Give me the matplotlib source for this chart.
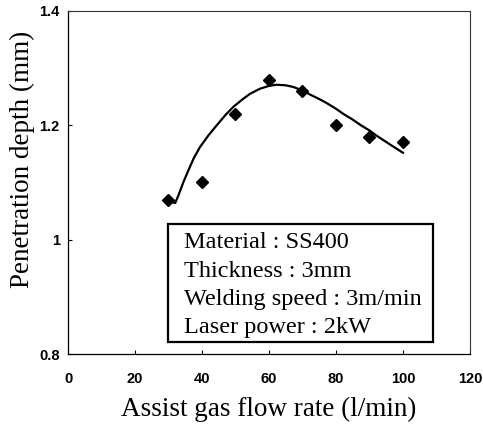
# Penetration depth vs assist gas flow rate, SS400 3mm
import matplotlib.pyplot as plt
from matplotlib.patches import Rectangle

flow = [30, 40, 50, 60, 70, 80, 90, 100]
depth = [1.07, 1.10, 1.22, 1.28, 1.26, 1.20, 1.18, 1.17]

# fitted curve
curve_x = [31.0, 32.0, 33.0, 34.4, 36.0, 37.5, 39.4, 42.0, 44.4, 47.0, 49.3, 52.0, 54.3, 57.3,
           60.0, 62.3, 65.0, 67.3, 70.0, 72.2, 75.0, 77.2, 80.0, 82.2, 85.0, 87.2, 90.0, 92.1, 96.0, 100.0]
curve_y = [1.066, 1.064, 1.078, 1.100, 1.122, 1.142, 1.162, 1.183, 1.200, 1.218, 1.232, 1.245, 1.255, 1.264,
           1.269, 1.271, 1.270, 1.267, 1.261, 1.254, 1.246, 1.239, 1.229, 1.220, 1.210, 1.201, 1.191, 1.182, 1.167, 1.152]

xticks = [0, 20, 40, 60, 80, 100, 120]
yticks = [0.8, 1.0, 1.2, 1.4]
ytick_labels = ['0.8', '1', '1.2', '1.4']

info = ['Material : SS400', 'Thickness : 3mm', 'Welding speed : 3m/min', 'Laser power : 2kW']

fig = plt.figure(figsize=(4.83, 4.34), dpi=100)
ax = fig.add_axes([0.1408, 0.1843, 0.8322, 0.7904])

ax.plot(curve_x, curve_y, color='black', lw=1.6)
ax.plot(flow, depth, linestyle='none', marker='D', ms=5.8, color='black')

ax.set_xlim(0, 120)
ax.set_ylim(0.8, 1.4)
ax.set_xticks(xticks)
ax.set_yticks(yticks)
ax.set_yticklabels(ytick_labels)
ax.tick_params(direction='in', length=3, width=0.8)
ax.tick_params(axis='x', pad=13)
ax.tick_params(axis='y', pad=6)
for lab in ax.get_xticklabels() + ax.get_yticklabels():
    lab.set_fontfamily('Liberation Sans')
    lab.set_fontweight('bold')
    lab.set_fontsize(10.5)

for side in ['left', 'bottom']:
    ax.spines[side].set_linewidth(0.9)
for side in ['top', 'right']:
    ax.spines[side].set_linewidth(0.8)
    ax.spines[side].set_linestyle((0, (2, 1)))
    ax.spines[side].set_color('#333333')

ax.set_xlabel('Assist gas flow rate (l/min)', fontfamily='Liberation Serif', fontsize=19.5)
ax.xaxis.set_label_coords(0.5, -0.124)
ax.set_ylabel('Penetration depth (mm)', fontfamily='Liberation Serif', fontsize=19.5)
ax.yaxis.set_label_coords(-0.083, 0.567)

# info box
ax.add_patch(Rectangle((0.249, 0.035), 0.659, 0.344, transform=ax.transAxes,
                       facecolor='white', edgecolor='black', lw=1.6, zorder=3))
line_y = [0.309, 0.2245, 0.143, 0.061]
for txt, yy in zip(info, line_y):
    ax.text(0.2886, yy, txt, transform=ax.transAxes, fontfamily='Liberation Serif',
            fontsize=17.5, va='baseline', ha='left', zorder=4)

plt.savefig('out.png', dpi=100)
